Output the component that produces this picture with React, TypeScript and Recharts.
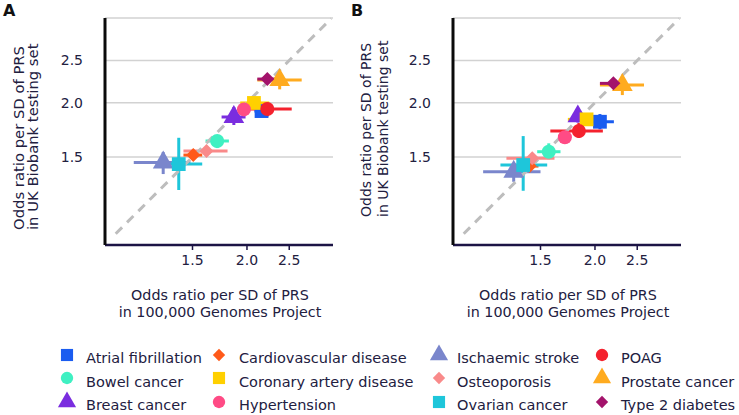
import React from 'react'
import { ComposedChart, Scatter, ErrorBar, XAxis, YAxis, CartesianGrid, ReferenceLine, Symbols } from 'recharts'

const diseases = [
  'Atrial fibrillation', 'Bowel cancer', 'Breast cancer',
  'Cardiovascular disease', 'Coronary artery disease', 'Hypertension',
  'Ischaemic stroke', 'Osteoporosis', 'Ovarian cancer',
  'POAG', 'Prostate cancer', 'Type 2 diabetes',
]
const colors = [
  '#1a5cf0', '#3ff0c2', '#7a2ddf',
  '#ff5a1a', '#ffd000', '#ff4b85',
  '#7a86cc', '#f98a8a', '#1ec6da',
  '#f4222e', '#ffab1f', '#a3136b',
]
const shapes = [
  'square', 'circle', 'triangle',
  'diamond', 'square', 'circle',
  'triangle', 'diamond', 'square',
  'circle', 'triangle', 'diamond',
]

const ticks = [1.5, 2, 2.5]
const tickLabels = ['1.5', '2.0', '2.5']

// Panel A: odds ratio in 100kGP (x) vs UK Biobank (y), with CI bounds
const aX = [2.16, 1.709, 1.866, 1.506, 2.075, 1.968, 1.285, 1.615, 1.395, 2.227, 2.377, 2.227]
const aXLow = [2.08, 1.607, 1.749, 1.43, 1.93, 1.92, 1.1, 1.43, 1.335, 1.916, 2.112, 2.112]
const aXHigh = [2.25, 1.818, 1.985, 1.579, 2.25, 2.02, 1.484, 1.805, 1.579, 2.533, 2.67, 2.368]
const aY = [1.913, 1.633, 1.854, 1.516, 1.997, 1.93, 1.458, 1.548, 1.445, 1.934, 2.254, 2.266]
const aYLow = [1.87, 1.573, 1.777, 1.48, 1.96, 1.89, 1.371, 1.52, 1.26, 1.86, 2.146, 2.22]
const aYHigh = [1.96, 1.685, 1.954, 1.56, 2.04, 1.97, 1.54, 1.58, 1.661, 2.0, 2.336, 2.31]

// Panel B
const bX = [2.053, 1.567, 1.827, 1.417, 1.913, 1.706, 1.302, 1.436, 1.369, 1.837, 2.311, 2.204]
const bXLow = [1.972, 1.474, 1.79, 1.335, 1.733, 1.67, 1.108, 1.253, 1.214, 1.58, 2.053, 2.053]
const bXHigh = [2.21, 1.667, 1.87, 1.484, 2.025, 1.74, 1.5, 1.615, 1.554, 2.085, 2.591, 2.354]
const bY = [1.808, 1.543, 1.86, 1.43, 1.831, 1.665, 1.388, 1.49, 1.438, 1.721, 2.196, 2.215]
const bYLow = [1.737, 1.482, 1.8, 1.4, 1.79, 1.63, 1.316, 1.46, 1.255, 1.659, 2.082, 2.17]
const bYHigh = [1.883, 1.613, 1.93, 1.46, 1.87, 1.7, 1.44, 1.52, 1.676, 1.796, 2.306, 2.26]

const font = '"DejaVu Sans", sans-serif'
const textColor = '#22203f'

function buildRows(x: number[], xLo: number[], xHi: number[], y: number[], yLo: number[], yHi: number[]) {
  return diseases.map((name, i) => ({
    name,
    x: x[i],
    y: y[i],
    ex: [x[i] - xLo[i], xHi[i] - x[i]],
    ey: [y[i] - yLo[i], yHi[i] - y[i]],
  }))
}

const fmt = (v: number) => tickLabels[ticks.indexOf(v)] ?? String(v)

// R-style filled markers: square, circle, triangle, rotated-square diamond
function Marker({ cx, cy, type, fill, scale = 1 }: any) {
  if (type === 'diamond') {
    const r = 7 * scale
    return <polygon points={`${cx},${cy - r} ${cx + r},${cy} ${cx},${cy + r} ${cx - r},${cy}`} fill={fill} />
  }
  const size = (type === 'square' ? 190 : type === 'circle' ? 155 : 185) * scale * scale
  return <Symbols cx={cx} cy={cy} type={type} size={size} fill={fill} />
}

function Panel({ rows, left, letter, yFont, yTop, yLeft, yLine }: any) {
  return (
    <div style={{ position: 'absolute', left, top: 0, width: 370, height: 330 }}>
      <div style={{ position: 'absolute', left: 3, top: 3, fontFamily: font, fontWeight: 'bold', fontSize: 16, lineHeight: '16px', color: '#111' }}>
        {letter}
      </div>
      <div
        style={{
          position: 'absolute', left: yLeft, top: yTop, transform: 'rotate(-90deg)', transformOrigin: '0 0',
          whiteSpace: 'nowrap', fontFamily: font, fontSize: yFont, lineHeight: `${yLine}px`, color: textColor,
        }}
      >
        Odds ratio per SD of PRS<br />in UK Biobank testing set
      </div>
      <div style={{ position: 'absolute', left: 0, top: 0 }}>
        <ComposedChart width={370} height={272} margin={{ top: 18, right: 37, bottom: 0, left: 0 }}>
          <CartesianGrid vertical={false} stroke="#d2d2d2" strokeWidth={1.5} />
          <XAxis
            type="number"
            dataKey="x"
            scale="log"
            domain={[0.945, 3.15]}
            allowDataOverflow
            ticks={ticks}
            tickFormatter={fmt}
            height={27}
            axisLine={{ stroke: '#1c1445', strokeWidth: 2.5 }}
            tickLine={{ stroke: '#1c1445', strokeWidth: 1.5 }}
            tickSize={5}
            tickMargin={5}
            tick={{ fill: textColor, fontSize: 14, fontFamily: font }}
          />
          <YAxis
            type="number"
            dataKey="y"
            scale="log"
            domain={[0.942, 3.13]}
            allowDataOverflow
            ticks={ticks}
            tickFormatter={fmt}
            width={105}
            axisLine={{ stroke: '#0a0a0a', strokeWidth: 3 }}
            tickLine={false}
            tickSize={0}
            tickMargin={22}
            tick={{ fill: textColor, fontSize: 14, fontFamily: font }}
          />
          {rows.map((r: any, i: number) => (
            <Scatter
              key={r.name}
              name={r.name}
              data={[r]}
              fill={colors[i]}
              shape={(p: any) => <Marker cx={p.cx} cy={p.cy} type={shapes[i]} fill={colors[i]} />}
              isAnimationActive={false}
            >
              <ErrorBar dataKey="ex" direction="x" width={0} stroke={colors[i]} strokeWidth={3} isAnimationActive={false} />
              <ErrorBar dataKey="ey" direction="y" width={0} stroke={colors[i]} strokeWidth={3} isAnimationActive={false} />
            </Scatter>
          ))}
          <ReferenceLine
            segment={[{ x: 1, y: 1 }, { x: 3.12, y: 3.12 }]}
            stroke="#bdbdbd"
            strokeWidth={3}
            strokeDasharray="9 7"
          />
        </ComposedChart>
      </div>
      <div
        style={{
          position: 'absolute', left: 100, top: 287, width: 240, textAlign: 'center',
          fontFamily: font, fontSize: 14.3, lineHeight: '17px', color: textColor, whiteSpace: 'nowrap',
        }}
      >
        Odds ratio per SD of PRS<br />in 100,000 Genomes Project
      </div>
    </div>
  )
}

const legendIconX = [67, 219, 439, 602]
const legendTextX = [86, 239, 457, 621]
const legendTextTop = [351, 375, 398]
const legendIconY = [354.5, 378, 401.5]

function Legend() {
  return (
    <>
      {diseases.map((name, i) => {
        const col = Math.floor(i / 3)
        const row = i % 3
        return (
          <React.Fragment key={name}>
            <svg
              width={22}
              height={22}
              style={{ position: 'absolute', left: legendIconX[col] - 11, top: legendIconY[row] - 11 }}
            >
              <Marker cx={11} cy={11} type={shapes[i]} fill={colors[i]} scale={0.88} />
            </svg>
            <div
              style={{
                position: 'absolute', left: legendTextX[col], top: legendTextTop[row], whiteSpace: 'nowrap',
                fontFamily: font, fontSize: 14.5, lineHeight: '15px', color: textColor,
              }}
            >
              {name}
            </div>
          </React.Fragment>
        )
      })}
    </>
  )
}

export default function App() {
  const rowsA = buildRows(aX, aXLow, aXHigh, aY, aYLow, aYHigh)
  const rowsB = buildRows(bX, bXLow, bXHigh, bY, bYLow, bYHigh)
  return (
    <div style={{ position: 'absolute', left: 0, top: 0, width: 739, height: 415, background: '#fff', overflow: 'hidden' }}>
      <Panel rows={rowsA} left={0} letter="A" yFont={14.8} yTop={230} yLeft={11.5} yLine={14} />
      <Panel rows={rowsB} left={348} letter="B" yFont={14} yTop={217} yLeft={10} yLine={17} />
      <Legend />
    </div>
  )
}
